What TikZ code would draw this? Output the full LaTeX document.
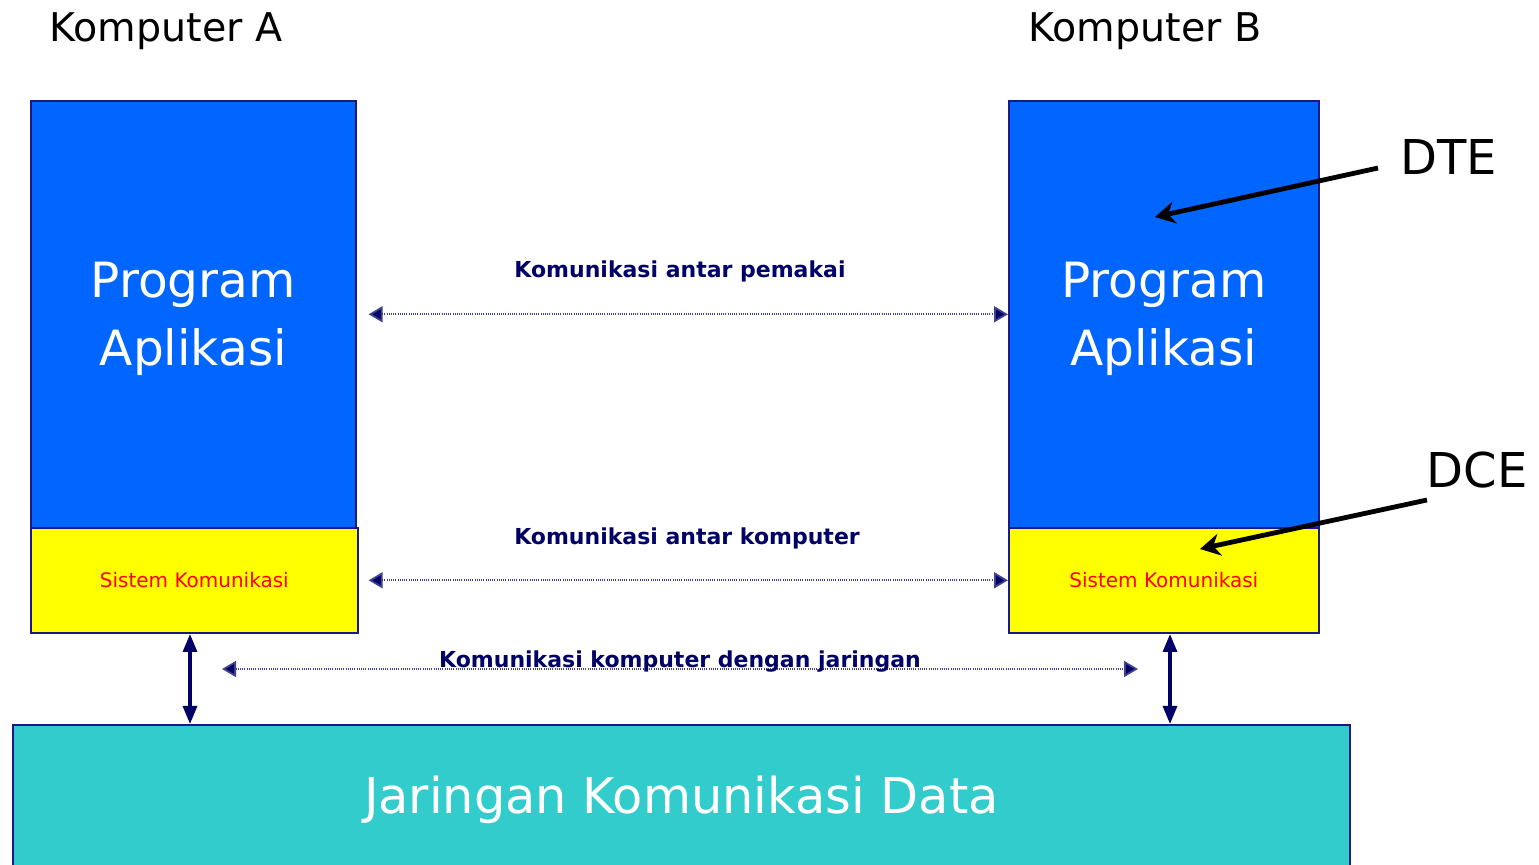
\documentclass[tikz,border=0pt]{standalone}
\usepackage{fontspec}
\setmainfont{DejaVu Sans}
\usetikzlibrary{arrows.meta,calc}
\definecolor{appblue}{HTML}{0066FF}
\definecolor{sysyellow}{HTML}{FFFF00}
\definecolor{netteal}{HTML}{33CCCC}
\definecolor{navy}{HTML}{000066}
\definecolor{edgenavy}{HTML}{1A1A80}
\tikzset{
  x=0.5pt, y=-0.5pt,
  appbox/.style={draw=edgenavy, line width=0.8pt, fill=appblue, anchor=north west,
    inner sep=0pt, text=white, align=center, font=\fontsize{24.3}{34}\selectfont},
  sysbox/.style={draw=edgenavy, line width=0.8pt, fill=sysyellow, anchor=north west,
    inner sep=0pt, text=red, font=\fontsize{10}{12}\selectfont},
  netbox/.style={draw=edgenavy, line width=0.8pt, fill=netteal, anchor=north west,
    inner sep=0pt, text=white, font=\fontsize{24.7}{30}\selectfont},
  title/.style={font=\fontsize{19.8}{24}\selectfont, text=black},
  commlabel/.style={font=\bfseries\fontsize{11}{13}\selectfont, text=navy},
  tag/.style={font=\fontsize{24}{29}\selectfont, text=black, inner sep=0pt},
  dotarrow/.style={draw=navy!75, line width=0.9pt, dash pattern=on 0.5pt off 0.6pt,
    {Triangle[width=8pt,length=7pt,fill=navy]}-{Triangle[width=8pt,length=7pt,fill=navy]}},
  linkarrow/.style={draw=navy, line width=1.6pt,
    {Triangle[width=7pt,length=9pt]}-{Triangle[width=7pt,length=9pt]}},
  pointer/.style={draw=black, line width=2.4pt, -{Stealth[width=11pt,length=10pt]}}
}
\begin{document}
\begin{tikzpicture}
\useasboundingbox (0,0) rectangle (1539,865);

% headings
\node[title] (ka) at (166,31) {Komputer A};
\node[title] (kb) at (1145,31) {Komputer B};

% computer A
\node[appbox, minimum width=162.5pt, minimum height=213.5pt] (pa) at (30,100) {\\[-12pt]Program\\Aplikasi};
\node[sysbox, minimum width=163.5pt, minimum height=52.5pt] (sa) at (30,527) {Sistem Komunikasi};

% computer B
\node[appbox, minimum width=155pt, minimum height=213.5pt] (pb) at (1008,100) {\\[-12pt]Program\\Aplikasi};
\node[sysbox, minimum width=155pt, minimum height=52.5pt] (sb) at (1008,527) {Sistem Komunikasi};

% network
\node[netbox, minimum width=668.5pt, minimum height=75pt] (net) at (12,724) {Jaringan Komunikasi Data};

% peer communication levels
\draw[dotarrow, shorten <=6pt] (pa.east) -- (pb.west);
\node[commlabel] (l1) at (680,271) {Komunikasi antar pemakai};
\draw[dotarrow, shorten <=5pt] (sa.east) -- (sb.west);
\node[commlabel] (l2) at (687,538) {Komunikasi antar komputer};

\coordinate (nl) at (222,669);
\coordinate (nr) at (1138,669);
\draw[dotarrow] (nl) -- (nr);
\node[commlabel] (l3) at (680,662) {Komunikasi komputer dengan jaringan};

% links between computers and network
\coordinate (ta) at (190,634);
\coordinate (tb) at (1170,634);
\draw[linkarrow] (ta) -- (ta |- net.north);
\draw[linkarrow] (tb) -- (tb |- net.north);

% DTE / DCE labels
\node[tag, anchor=west] (dte) at (1400,157) {DTE};
\node[tag, anchor=east] (dce) at (1528,470) {DCE};
\coordinate (dtetip) at (1155,217);
\coordinate (dcetip) at (1200,549);
\draw[pointer] (1378,168) -- (dtetip);
\draw[pointer] (1427,500) -- (dcetip);
\end{tikzpicture}
\end{document}
